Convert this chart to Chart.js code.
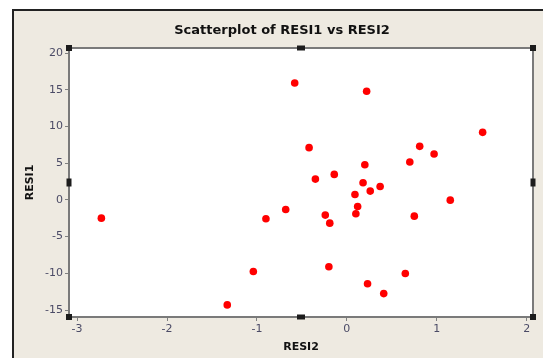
<!DOCTYPE html>
<html>
<head>
<meta charset="utf-8">
<script src="https://cdn.jsdelivr.net/npm/chart.js@4.4.1/dist/chart.umd.min.js"></script>
<style>
html,body{margin:0;padding:0;background:#fff;}
</style>
</head>
<body>
<canvas id="myChart" width="543" height="358"></canvas>
<script>
// residuals
const resi2 = [-2.73, -1.33, -1.04, -0.90, -0.68, -0.58, -0.42, -0.35, -0.24, -0.19,
               -0.20, -0.14, 0.09, 0.12, 0.10, 0.18, 0.20, 0.22, 0.23, 0.26,
               0.37, 0.41, 0.65, 0.70, 0.75, 0.81, 0.97, 1.15, 1.51];
const resi1 = [-2.48, -14.3, -9.75, -2.56, -1.30, 15.93, 7.12, 2.84, -2.07, -3.16,
               -9.11, 3.48, 0.75, -0.89, -1.88, 2.35, 4.80, 14.8, -11.43, 1.20,
               1.84, -12.76, -10.03, 5.16, -2.21, 7.30, 6.25, -0.03, 9.21];
const xTicks = [-3, -2, -1, 0, 1, 2];
const yTicks = [-15, -10, -5, 0, 5, 10, 15, 20];

const frame = {
    id: 'frame',
    beforeDraw(chart) {
        const {ctx, chartArea: a, width, height} = chart;
        ctx.save();
        ctx.fillStyle = '#fff';
        ctx.fillRect(0, 0, width, height);
        ctx.fillStyle = '#eeeae1';
        ctx.fillRect(13, 10, width - 13, height - 10);
        ctx.strokeStyle = '#222';
        ctx.lineWidth = 2;
        ctx.beginPath();
        ctx.moveTo(13, height);
        ctx.lineTo(13, 10);
        ctx.lineTo(width, 10);
        ctx.stroke();
        ctx.fillStyle = '#fff';
        ctx.fillRect(a.left, a.top, a.right - a.left, a.bottom - a.top);
        ctx.restore();
    },
    afterDraw(chart) {
        const {ctx, chartArea: a} = chart;
        const cx = (a.left + a.right) / 2, cy = (a.top + a.bottom) / 2;
        ctx.save();
        ctx.strokeStyle = '#7a7a7a';
        ctx.lineWidth = 2;
        ctx.strokeRect(a.left, a.top, a.right - a.left, a.bottom - a.top);
        // selection handles
        ctx.fillStyle = '#1c1c1c';
        const hs = [
            [a.left, a.top, 6, 6], [cx, a.top, 8, 5], [a.right, a.top, 6, 6],
            [a.left, cy, 5, 8], [a.right, cy, 5, 8],
            [a.left, a.bottom, 6, 6], [cx, a.bottom, 8, 5], [a.right, a.bottom, 6, 6]
        ];
        hs.forEach(([x, y, w, h]) => ctx.fillRect(x - w / 2, y - h / 2, w, h));
        ctx.restore();
    }
};

const ctx = document.getElementById('myChart');

new Chart(ctx, {
    type: 'scatter',
    data: {
        datasets: [{
            label: 'RESI1 vs RESI2',
            data: resi2.map((x, i) => ({x: x, y: resi1[i]})),
            backgroundColor: '#ff0000',
            borderWidth: 0,
            pointRadius: 3.8,
            pointHoverRadius: 3.8
        }]
    },
    options: {
        responsive: false,
        animation: false,
        layout: {padding: {left: 31, top: 10, right: 10, bottom: 0}},
        plugins: {
            legend: {display: false},
            tooltip: {enabled: false},
            title: {
                display: true,
                text: 'Scatterplot of RESI1 vs RESI2',
                color: '#111',
                font: {family: 'DejaVu Sans', size: 13, weight: 'bold'},
                padding: {top: 13.2, bottom: 9.2}
            }
        },
        scales: {
            x: {
                type: 'linear',
                min: -3.09,
                max: 2.07,
                afterBuildTicks: s => { s.ticks = xTicks.map(v => ({value: v})); },
                afterFit: s => { s.height = 41; },
                border: {display: false},
                grid: {drawOnChartArea: false, tickLength: 4, color: '#808080'},
                ticks: {color: '#4b4b66', padding: 2, font: {family: 'DejaVu Sans', size: 11}},
                title: {
                    display: true,
                    text: 'RESI2',
                    color: '#111',
                    font: {family: 'DejaVu Sans', size: 11, weight: 'bold'},
                    padding: {top: 0, bottom: 4.4}
                }
            },
            y: {
                min: -15.95,
                max: 20.7,
                afterBuildTicks: s => { s.ticks = yTicks.map(v => ({value: v})); },
                afterFit: s => { s.width = 38; },
                border: {display: false},
                grid: {drawOnChartArea: false, tickLength: 4, color: '#808080'},
                ticks: {color: '#4b4b66', padding: 2, font: {family: 'DejaVu Sans', size: 11}},
                title: {
                    display: true,
                    text: 'RESI1',
                    color: '#111',
                    font: {family: 'DejaVu Sans', size: 11, weight: 'bold'},
                    padding: {top: -7.6, bottom: 0}
                }
            }
        }
    },
    plugins: [frame]
});
</script>
</body>
</html>
